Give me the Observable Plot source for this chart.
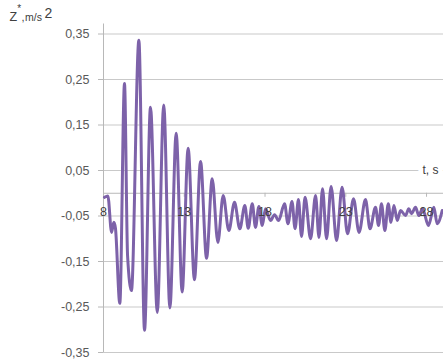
<!DOCTYPE html>
<html>
<head>
<meta charset="utf-8">
<script src="https://cdn.jsdelivr.net/npm/d3@7"></script>
<script src="https://cdn.jsdelivr.net/npm/@observablehq/plot@0.6"></script>
<style>
  body { margin: 0; background: #fff; }
  #chart svg { display: block; }
</style>
</head>
<body>
<div id="chart"></div>
<script>
// time, s
const tValues = [
  8.06, 8.27, 8.50, 8.64, 8.74, 9.01, 9.30, 9.49, 9.73, 10.19,
  10.54, 10.91, 11.33, 11.73, 12.11, 12.50, 12.87, 13.24, 13.63, 14.01,
  14.38, 14.73, 15.08, 15.41, 15.76, 16.11, 16.44, 16.75, 16.96, 17.21,
  17.41, 17.62, 17.83, 18.03, 18.34, 18.59, 18.84, 19.21, 19.42, 19.67,
  19.86, 20.07, 20.26, 20.48, 20.82, 21.13, 21.34, 21.56, 21.81, 22.09,
  22.43, 22.77, 23.11, 23.48, 23.82, 24.22, 24.50, 24.84, 25.03, 25.21,
  25.42, 25.63, 25.80, 25.98, 26.19, 26.39, 26.70, 26.90, 27.07, 27.32,
  27.52, 27.75, 28.12, 28.45, 28.66, 28.97
];
// acceleration Z*, m/s2
const zValues = [
  -0.009, -0.006, -0.086, -0.064, -0.077, -0.242, 0.241, -0.137, -0.214, 0.336,
  -0.301, 0.189, -0.262, 0.194, -0.252, 0.132, -0.217, 0.099, -0.190, 0.070,
  -0.143, 0.032, -0.108, -0.005, -0.082, -0.020, -0.078, -0.027, -0.077, -0.023,
  -0.075, -0.029, -0.071, -0.034, -0.060, -0.047, -0.060, -0.023, -0.067, -0.018,
  -0.078, -0.014, -0.095, -0.009, -0.100, -0.005, -0.097, 0.010, -0.100, 0.015,
  -0.104, 0.013, -0.089, -0.012, -0.086, -0.014, -0.078, -0.031, -0.071, -0.023,
  -0.082, -0.023, -0.064, -0.027, -0.060, -0.038, -0.049, -0.034, -0.045, -0.031,
  -0.049, -0.034, -0.071, -0.031, -0.067, -0.038
];
const yTicks = [0.35, 0.25, 0.15, 0.05, -0.05, -0.15, -0.25, -0.35];
const xTicks = [8, 13, 18, 23, 28];
const xDomain = [8, 29.05];
const yDomain = [-0.35, 0.35];
const xTitle = "t, s";
const yTitleParts = ["Z", "*", ",", "m/s", "2"];

const data = tValues.map((t, i) => ({t, z: zValues[i]}));
const fmt = d => d.toFixed(2).replace(".", ",");
const gridGray = "#c9c9c9";
const axisGray = "#b8b8b8";
const font = "'Liberation Sans', Arial, sans-serif";

const chart = Plot.plot({
  width: 443,
  height: 361,
  marginLeft: 103,
  marginRight: 0,
  marginTop: 33.5,
  marginBottom: 9,
  x: {domain: xDomain, axis: null},
  y: {domain: yDomain},
  style: {fontFamily: font, background: "#fff", overflow: "visible"},
  marks: [
    Plot.gridY(yTicks, {stroke: gridGray, strokeOpacity: 1}),
    Plot.ruleY([0], {stroke: axisGray}),
    Plot.ruleX(xTicks, {y1: 0, y2: 0, insetBottom: -4, stroke: axisGray}),
    Plot.ruleX([xDomain[0]], {stroke: axisGray, insetTop: -10}),
    Plot.axisY(yTicks, {
      tickSize: 5, tickPadding: 9, tickFormat: fmt,
      stroke: axisGray, fill: "#595959", fontSize: 12.5, label: null
    }),
    Plot.line(data, {x: "t", y: "z", stroke: "#7d62a9", strokeWidth: 3, curve: "monotone-x"}),
    Plot.text(xTicks, {
      x: d => d, y: 0, dy: 19, text: d => String(d),
      fill: "#404040", fontSize: 12.5
    }),
    Plot.text([xTitle], {
      y: yTicks[3], frameAnchor: "right", dx: -5, textAnchor: "end",
      text: d => d, fill: "#404040", fontSize: 12,
      stroke: "white", strokeWidth: 10, paintOrder: "stroke"
    }),
    // y-axis title: Z*, m/s 2
    Plot.text([yTitleParts[0]], {frameAnchor: "top-left", dx: -94, dy: -13.5, lineAnchor: "bottom", textAnchor: "start", text: d => d, fill: "#404040", fontSize: 12.5}),
    Plot.text([yTitleParts[1]], {frameAnchor: "top-left", dx: -86.3, dy: -22, lineAnchor: "bottom", textAnchor: "start", text: d => d, fill: "#404040", fontSize: 10}),
    Plot.text([yTitleParts[2]], {frameAnchor: "top-left", dx: -82, dy: -13, lineAnchor: "bottom", textAnchor: "start", text: d => d, fill: "#404040", fontSize: 11}),
    Plot.text([yTitleParts[3]], {frameAnchor: "top-left", dx: -78.5, dy: -13.5, lineAnchor: "bottom", textAnchor: "start", text: d => d, fill: "#404040", fontSize: 10.5}),
    Plot.text([yTitleParts[4]], {frameAnchor: "top-left", dx: -59, dy: -16.5, lineAnchor: "bottom", textAnchor: "start", text: d => d, fill: "#404040", fontSize: 14})
  ]
});

document.getElementById("chart").appendChild(chart);
</script>
</body>
</html>
